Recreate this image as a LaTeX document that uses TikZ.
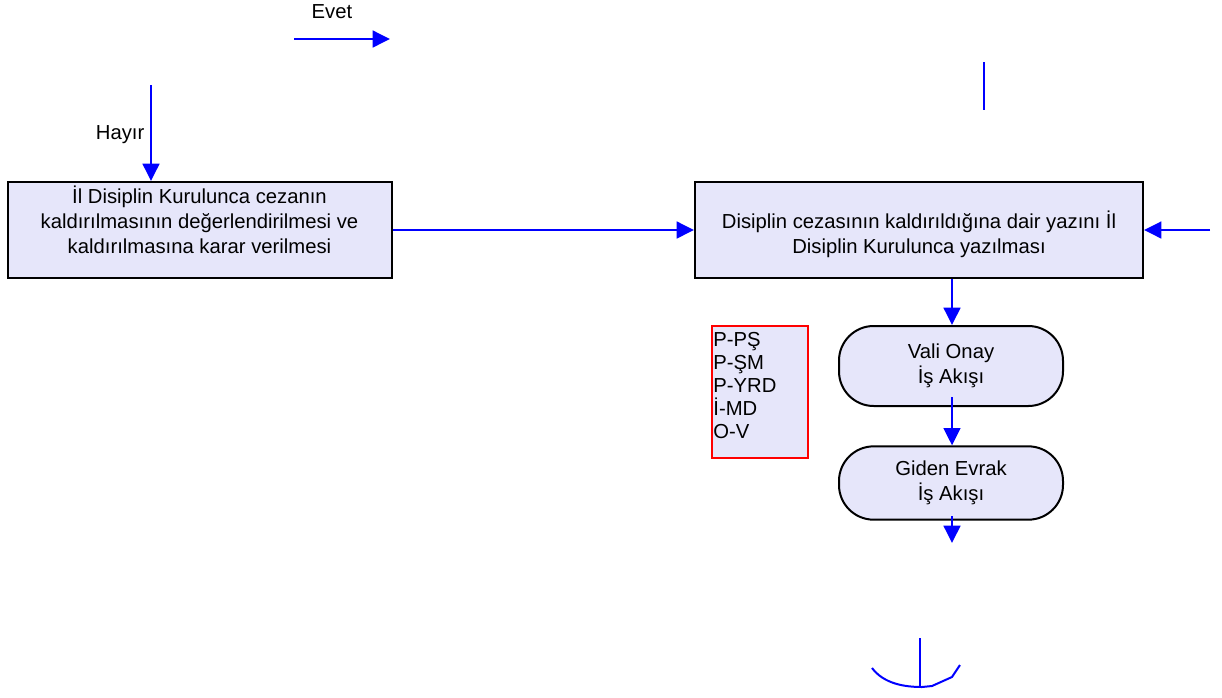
\documentclass[tikz,border=0pt]{standalone}
\usepackage{fontspec}
\setmainfont{Liberation Sans}
\usetikzlibrary{arrows.meta,positioning}
\definecolor{kutu}{RGB}{230,230,250}
\definecolor{ok}{RGB}{0,0,255}

\tikzset{
  islem/.style={draw=black,line width=1.5pt,fill=kutu,align=center,inner sep=0pt},
  akis/.style={islem,rounded corners=26pt},
  okcizgi/.style={draw=ok,line width=1.9pt,-{Triangle[length=13pt,width=12.5pt]}},
  cizgi/.style={draw=ok,line width=1.9pt}
}

\begin{document}
\begin{tikzpicture}[x=0.75pt,y=-0.75pt,font=\fontsize{15.2}{18.6}\selectfont]
\useasboundingbox (0,0) rectangle (1222,697);

% kutular
\node[islem,minimum width=288pt,minimum height=72pt,text depth=15pt] (kurul) at (199.5,230)
  {\.Il Disiplin Kurulunca cezanın\\kaldırılmasının değerlendirilmesi ve\\kaldırılmasına karar verilmesi};
\node[islem,minimum width=336pt,minimum height=72pt,text height=38pt] (yazi) at (919,230)
  {Disiplin cezasının kaldırıldığına dair yazını \.Il\\Disiplin Kurulunca yazılması};

\node[akis,minimum width=168pt,minimum height=60pt] (vali) at (951,366)
  {Vali Onay\\ \.I\c{s} Akışı};
\node[akis,minimum width=168pt,minimum height=55pt] (giden) at (951,483)
  {Giden Evrak\\\.I\c{s} Akışı};

\node[draw=red,line width=1.6pt,fill=kutu,align=left,anchor=north west,
  minimum width=72pt,minimum height=99pt,inner sep=1pt,text width=70pt,text depth=79.7pt,
  font=\fontsize{15.2}{17.3}\selectfont] (birim) at (711,325)
  {P-P\c{S}\\P-\c{S}M\\P-YRD\\\.I-MD\\O-V};

% serbest uclar
\coordinate (evetA) at (294,39);
\coordinate (evetB) at (390,39);
\coordinate (hayirA) at (151,85);
\coordinate (sagA) at (1210,230);
\coordinate (ustA) at (984,62);
\coordinate (ustB) at (984,110);
\coordinate (valiA) at (952,397);
\coordinate (gidenA) at (952,516);
\coordinate (gidenB) at (952,543);
\coordinate (altA) at (920,638);
\coordinate (altB) at (920,687);

% oklar
\draw[okcizgi] (evetA) -- (evetB);
\node (evet) at (332,12) {Evet};
\draw[okcizgi] (hayirA) -- (hayirA |- kurul.north);
\node[anchor=east] (hayir) at (149,135) {Hayır};

\draw[okcizgi] (kurul.east) -- (yazi.west);
\draw[okcizgi] (sagA) -- (yazi.east);
\draw[cizgi] (ustA) -- (ustB);

\draw[okcizgi] (yazi.south -| vali.north) ++(1,0) -- ([xshift=0.75pt]vali.north);
\draw[okcizgi] (valiA) -- (valiA |- giden.north);
\draw[okcizgi] (gidenA) -- (gidenB);

% alt baglanti
\draw[cizgi] (altA) -- (altB);
\draw[cizgi,line width=1.5pt] (872,668) .. controls (884,684) and (905,687) .. (922,687)
  -- (932,686) -- (952,677) -- (960,665);
\end{tikzpicture}
\end{document}
